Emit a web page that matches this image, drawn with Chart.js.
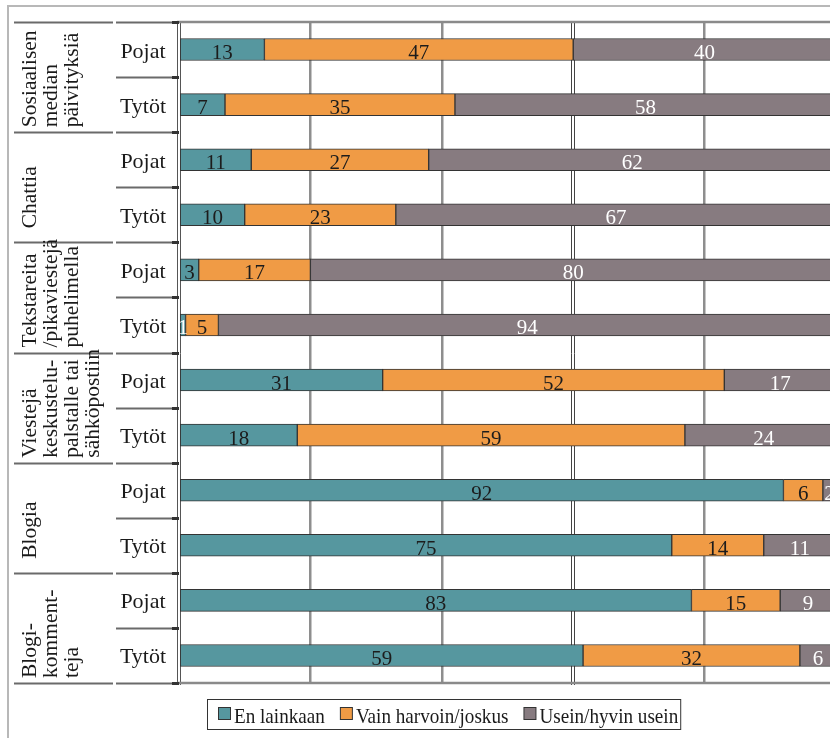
<!DOCTYPE html>
<html lang="fi">
<head>
<meta charset="UTF-8">
<title>Kaavio</title>
<script src="https://cdn.jsdelivr.net/npm/chart.js"></script>
<style>
  html, body { margin: 0; padding: 0; background: #fff; overflow: hidden; }
  #wrap { width: 850px; height: 738px; }
</style>
</head>
<body>
<div id="wrap"><canvas id="myChart" width="850" height="738"></canvas></div>
<script>
// categories (rotated group labels, one array item per line)
const categories = [
  ['Sosiaalisen', 'median', 'päivityksiä'],
  ['Chattia'],
  ['Tekstareita', '/pikaviestejä', 'puhelimella'],
  ['Viestejä', 'keskustelu-', 'palstalle tai', 'sähköpostiin'],
  ['Blogia'],
  ['Blogi-', 'komment-', 'teja']
];
const groups = ['Pojat', 'Tytöt'];
const seriesNames = ['En lainkaan', 'Vain harvoin/joskus', 'Usein/hyvin usein'];

// bar lengths (%)
const enLainkaan = [13, 7, 11, 10, 3, 1, 31, 18, 92, 75, 78, 61.5];
const harvoin    = [47, 35, 27, 23, 17, 5, 52, 59, 6, 14, 13.5, 33];
const usein      = [40, 58, 62, 67, 80, 94, 17, 24, 2, 11, 8.5, 5.5];

// numbers printed on the bars (last category is printed differently from its bars)
const enLainkaanText = [13, 7, 11, 10, 3, 1, 31, 18, 92, 75, 83, 59];
const harvoinText    = [47, 35, 27, 23, 17, 5, 52, 59, 6, 14, 15, 32];
const useinText      = [40, 58, 62, 67, 80, 94, 17, 24, 2, 11, 9, 6];

const xTicks = [0, 20, 40, 60, 80, 100];

const colors = ['#56979f', '#f09b45', '#877b80'];
const textColors = ['#1c1c1c', '#1c1c1c', '#ffffff'];
const printed = [enLainkaanText, harvoinText, useinText];
const FONT = '"Liberation Serif", "Times New Roman", serif';

const rowLabels = [];
categories.forEach(c => groups.forEach(g => rowLabels.push(c.join(' ') + ' – ' + g)));

const decor = {
  id: 'decor',
  beforeDatasetsDraw(chart) {
    const { ctx, chartArea: a, scales: { x } } = chart;
    ctx.save();
    // double lines at 0 and 60
    [0, 60].forEach(v => {
      const px = Math.round(x.getPixelForValue(v));
      ctx.strokeStyle = v === 0 ? '#555' : '#444';
      ctx.lineWidth = 1;
      [px - 1.5, px + 1.5].forEach(xx => {
        ctx.beginPath();
        ctx.moveTo(xx, a.top);
        ctx.lineTo(xx, a.bottom + 2);
        ctx.stroke();
      });
    });
    ctx.restore();
  },
  afterDatasetsDraw(chart) {
    const { ctx } = chart;
    ctx.save();
    ctx.font = '21px ' + FONT;
    ctx.textAlign = 'center';
    ctx.textBaseline = 'alphabetic';
    chart.data.datasets.forEach((ds, di) => {
      chart.getDatasetMeta(di).data.forEach((bar, i) => {
        const w = Math.abs(bar.x - bar.base);
        ctx.fillStyle = w < 8 ? '#ffffff' : textColors[di];
        ctx.fillText(String(printed[di][i]), (bar.x + bar.base) / 2, bar.y + 9.5);
      });
    });
    ctx.restore();
  },
  afterDraw(chart) {
    const { ctx, chartArea: a, width } = chart;
    const rowH = (a.bottom - a.top) / rowLabels.length;
    ctx.save();

    // outer frame
    ctx.strokeStyle = '#b8b8b8';
    ctx.lineWidth = 2;
    ctx.beginPath();
    ctx.moveTo(8, 738);
    ctx.lineTo(8, 6);
    ctx.lineTo(width, 6);
    ctx.stroke();

    // top and bottom lines of the plot
    ctx.strokeStyle = '#8a8a8a';
    ctx.lineWidth = 2.5;
    [a.top, a.bottom].forEach(yy => {
      ctx.beginPath();
      ctx.moveTo(a.left - 2, yy);
      ctx.lineTo(width, yy);
      ctx.stroke();
    });

    // table lines at the left
    for (let k = 0; k <= rowLabels.length; k++) {
      const yy = Math.round(a.top + k * rowH) + 0.5;
      ctx.strokeStyle = '#6a6a6a';
      ctx.lineWidth = 2;
      ctx.beginPath();
      if (k % 2 === 0) {
        ctx.moveTo(14, yy);
        ctx.lineTo(113, yy);
      }
      ctx.moveTo(116, yy);
      ctx.lineTo(a.left - 6, yy);
      ctx.stroke();
      ctx.strokeStyle = '#333';
      ctx.lineWidth = 3;
      ctx.beginPath();
      ctx.moveTo(a.left - 7, yy);
      ctx.lineTo(a.left, yy);
      ctx.stroke();
    }

    // Pojat / Tytöt labels
    ctx.fillStyle = '#1a1a1a';
    ctx.font = '22px ' + FONT;
    ctx.textAlign = 'center';
    ctx.textBaseline = 'alphabetic';
    rowLabels.forEach((_, i) => {
      const cy = a.top + (i + 0.5) * rowH;
      ctx.fillText(groups[i % 2], 143, cy + 8);
    });

    // rotated category labels
    ctx.font = '21.5px ' + FONT;
    ctx.textAlign = 'left';
    categories.forEach((lines, c) => {
      const bottom = a.top + (2 * c + 2) * rowH;
      const off = lines.length === 1 ? 14 : 5;
      lines.forEach((txt, li) => {
        ctx.save();
        ctx.translate(36 + li * 21, bottom - off);
        ctx.rotate(-Math.PI / 2);
        ctx.fillText(txt, 0, 0);
        ctx.restore();
      });
    });

    // legend (tall, narrow type as in the original)
    const sx = 0.87;
    ctx.font = '22px ' + FONT;
    const lx = 207, ly = 699, lh = 30;
    let cx = lx + 11;
    const items = seriesNames.map((n, i) => {
      const it = { x: cx, name: n, color: colors[i] };
      cx += 16 + ctx.measureText(n).width * sx + 15;
      return it;
    });
    const right = cx - 15 + 2;
    ctx.strokeStyle = '#333';
    ctx.lineWidth = 1;
    ctx.strokeRect(lx + 0.5, ly + 0.5, right - lx, lh);
    items.forEach(it => {
      ctx.fillStyle = it.color;
      ctx.fillRect(it.x + 0.5, ly + 8.5, 12, 12);
      ctx.strokeRect(it.x + 0.5, ly + 8.5, 12, 12);
      ctx.fillStyle = '#1a1a1a';
      ctx.save();
      ctx.translate(it.x + 16, ly + 24);
      ctx.scale(sx, 1);
      ctx.fillText(it.name, 0, 0);
      ctx.restore();
    });

    ctx.restore();
  }
};

new Chart(document.getElementById('myChart'), {
  type: 'bar',
  data: {
    labels: rowLabels,
    datasets: [enLainkaan, harvoin, usein].map((d, i) => ({
      label: seriesNames[i],
      data: d,
      backgroundColor: colors[i],
      borderColor: '#333',
      borderWidth: 1,
      borderSkipped: false,
      barThickness: 22
    }))
  },
  options: {
    indexAxis: 'y',
    responsive: false,
    animation: false,
    layout: { padding: { left: 179, top: 22, bottom: 55, right: 14 } },
    plugins: { legend: { display: false }, tooltip: { enabled: false } },
    scales: {
      x: {
        stacked: true,
        min: 0,
        max: 100,
        afterBuildTicks: s => { s.ticks = xTicks.map(v => ({ value: v })); },
        ticks: { display: false },
        border: { display: false },
        grid: {
          drawTicks: false,
          lineWidth: 2.5,
          color: c => (c.tick && (c.tick.value === 0 || c.tick.value === 60)) ? 'rgba(0,0,0,0)' : '#8e8e8e'
        }
      },
      y: { stacked: true, display: false }
    }
  },
  plugins: [decor]
});
</script>
</body>
</html>
